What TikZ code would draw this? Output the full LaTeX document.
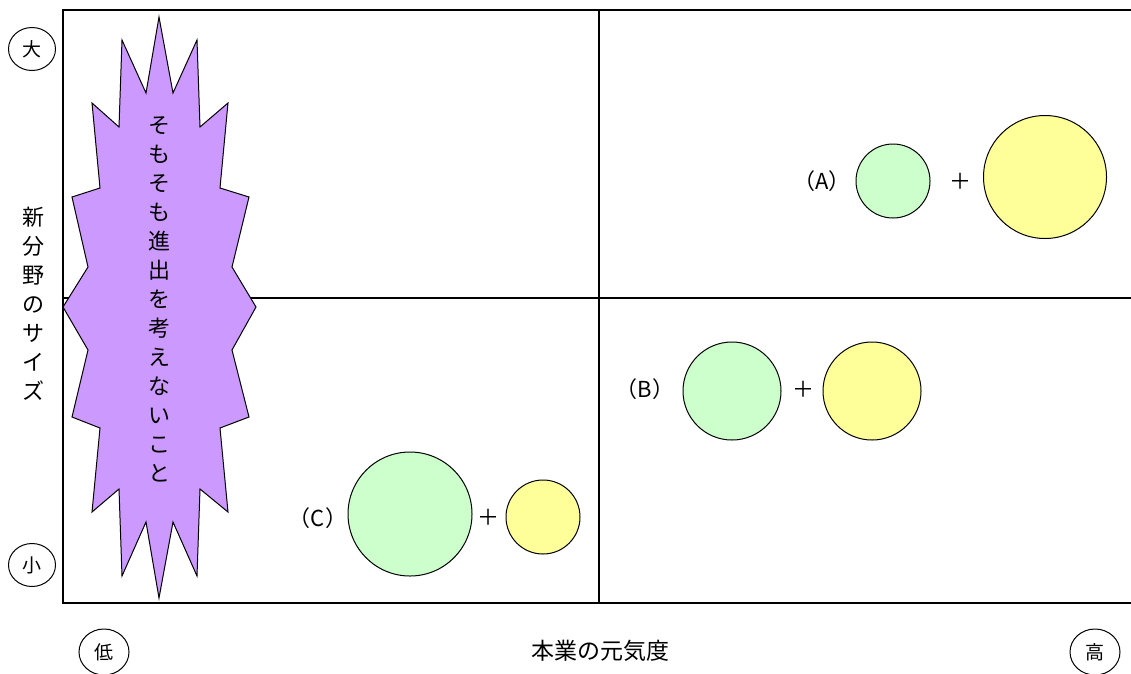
\documentclass[tikz,border=0pt]{standalone}
\usepackage{fontspec}
\setmainfont{Noto Sans CJK JP}
\usetikzlibrary{shapes.geometric}
\definecolor{stpurple}{HTML}{CC99FF}
\definecolor{stgreen}{HTML}{CCFFCC}
\definecolor{styellow}{HTML}{FFFF99}

\begin{document}
\begin{tikzpicture}[
  x=1pt, y=-1pt,
  font=\fontsize{22}{29}\selectfont,
  frame/.style={line width=2pt},
  divider/.style={line width=1.5pt},
  axisend/.style={draw, ellipse, line width=1pt, minimum width=47pt, minimum height=43pt, inner sep=0pt, font=\fontsize{19}{22}\selectfont},
  mainbiz/.style={draw, circle, fill=stgreen, line width=1pt, inner sep=0pt},
  newbiz/.style={draw, circle, fill=styellow, line width=1pt, inner sep=0pt},
  vtext/.style={align=center, inner sep=0pt}
]
\useasboundingbox (0,0) rectangle (1131,673);
% Frame and quadrants
\draw[frame] (1131,10) -- (63,10) -- (63,603) -- (1131,603);
\draw[divider] (599,10) -- (599,603);
\draw[divider] (63,298) -- (1131,298);
% Warning burst
\draw[fill=stpurple, line width=1pt, line join=miter]
  (159,17) -- (173,93) -- (197,40) -- (200,127) -- (228,103) -- (220,188) -- (249,197) -- (232,267)
  -- (256,307) -- (232,350) -- (249,417) -- (220,428) -- (228,512) -- (200,489) -- (197,576) -- (173,522)
  -- (159,598) -- (146,522) -- (122,576) -- (119,489) -- (92,512) -- (100,428) -- (72,417) -- (88,350)
  -- (63,307) -- (88,267) -- (72,197) -- (100,188) -- (92,103) -- (119,127) -- (122,40) -- (146,93) -- cycle;
\node[vtext] (warn) at (159,299) {そ\\も\\そ\\も\\進\\出\\を\\考\\え\\な\\い\\こ\\と};
% Axes
\node[vtext] (ylabel) at (33,304) {新\\分\\野\\の\\サ\\イ\\ズ};
\node[axisend] (ybig) at (32,49) {大};
\node[axisend] (ysmall) at (32,565) {小};
\node[axisend, minimum width=50pt, minimum height=46pt] (xlow) at (104,652) {低};
\node[axisend, minimum width=50pt, minimum height=46pt] (xhigh) at (1095,652) {高};
\node[font=\fontsize{23}{29}\selectfont] (xlabel) at (600,651) {本業の元気度};
% Case A
\node (labA) at (822,181) {（A）};
\node[mainbiz, minimum size=74pt] (mainA) at (893,181) {};
\node (plusA) at (960,181) {＋};
\node[newbiz, minimum size=123pt] (newA) at (1045,177) {};
% Case B
\node (labB) at (645,389) {（B）};
\node[mainbiz, minimum size=98pt] (mainB) at (732,391) {};
\node (plusB) at (803,389) {＋};
\node[newbiz, minimum size=98pt] (newB) at (872,391) {};
% Case C
\node (labC) at (318,518) {（C）};
\node[mainbiz, minimum size=124pt] (mainC) at (410,514) {};
\node (plusC) at (488,517) {＋};
\node[newbiz, minimum size=74pt] (newC) at (543,517) {};
\end{tikzpicture}
\end{document}
